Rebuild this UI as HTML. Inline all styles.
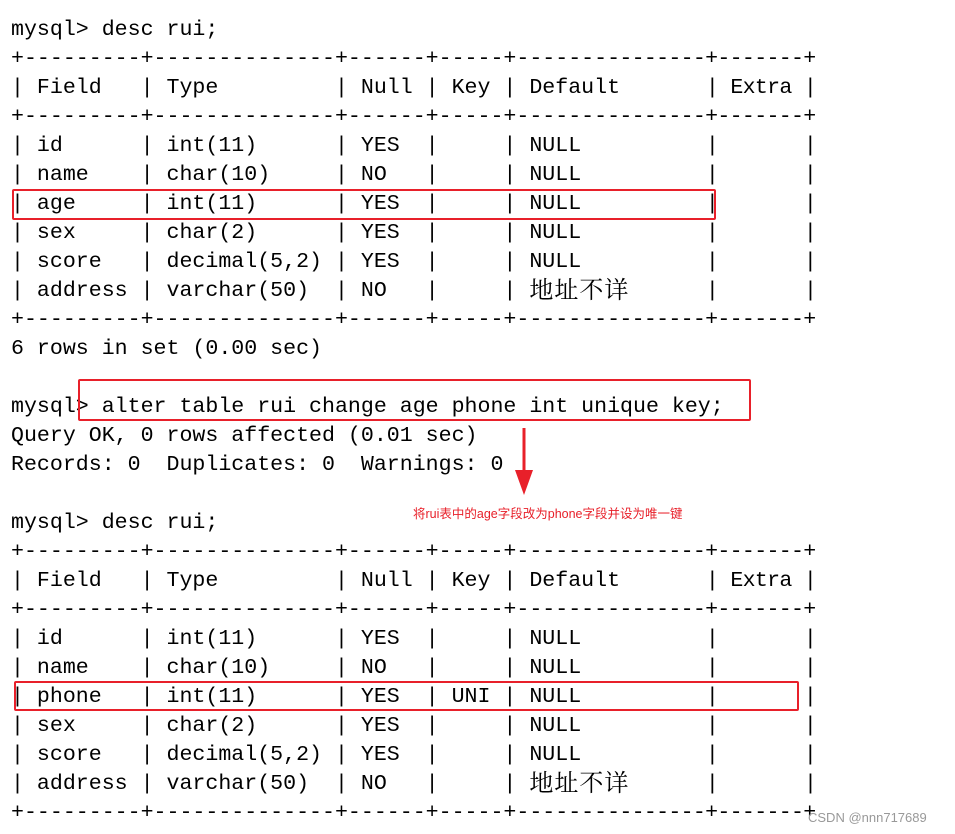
<!DOCTYPE html>
<html><head><meta charset="utf-8"><style>
body{margin:0;width:955px;height:834px;background:#fff;position:relative;overflow:hidden}
.l{position:absolute;left:11px;height:29px;line-height:29px;font-family:"Liberation Mono",monospace;font-size:21.6px;white-space:pre;color:#000}
.t{letter-spacing:-0.7px}
.cj{display:inline-block;width:103px;height:29px;line-height:29px;vertical-align:top;font-family:"Liberation Serif","Noto Serif CJK SC",serif;font-size:24px;letter-spacing:1px}
.box{position:absolute;border:2px solid #e8202a;border-radius:2px}
</style></head><body>
<div class="l" style="top:16px">mysql&gt; desc rui;</div>
<div class="l" style="top:45px">+---------+--------------+------+-----+-------<span class="t">--------+-------+</span></div>
<div class="l" style="top:74px">| Field   | Type         | Null | Key | Default<span class="t">       | Extra |</span></div>
<div class="l" style="top:103px">+---------+--------------+------+-----+-------<span class="t">--------+-------+</span></div>
<div class="l" style="top:132px">| id      | int(11)      | YES  |     | NULL   <span class="t">       |       |</span></div>
<div class="l" style="top:161px">| name    | char(10)     | NO   |     | NULL   <span class="t">       |       |</span></div>
<div class="l" style="top:190px">| age     | int(11)      | YES  |     | NULL   <span class="t">       |       |</span></div>
<div class="l" style="top:219px">| sex     | char(2)      | YES  |     | NULL   <span class="t">       |       |</span></div>
<div class="l" style="top:248px">| score   | decimal(5,2) | YES  |     | NULL   <span class="t">       |       |</span></div>
<div class="l" style="top:277px">| address | varchar(50)  | NO   |     | <span class="cj">地址不详</span><span class="t">      |       |</span></div>
<div class="l" style="top:306px">+---------+--------------+------+-----+-------<span class="t">--------+-------+</span></div>
<div class="l" style="top:335px">6 rows in set (0.00 sec)</div>
<div class="l" style="top:393px">mysql&gt; alter table rui change age phone int unique key;</div>
<div class="l" style="top:422px">Query OK, 0 rows affected (0.01 sec)</div>
<div class="l" style="top:451px">Records: 0  Duplicates: 0  Warnings: 0</div>
<div class="l" style="top:509px">mysql&gt; desc rui;</div>
<div class="l" style="top:538px">+---------+--------------+------+-----+-------<span class="t">--------+-------+</span></div>
<div class="l" style="top:567px">| Field   | Type         | Null | Key | Default<span class="t">       | Extra |</span></div>
<div class="l" style="top:596px">+---------+--------------+------+-----+-------<span class="t">--------+-------+</span></div>
<div class="l" style="top:625px">| id      | int(11)      | YES  |     | NULL   <span class="t">       |       |</span></div>
<div class="l" style="top:654px">| name    | char(10)     | NO   |     | NULL   <span class="t">       |       |</span></div>
<div class="l" style="top:683px">| phone   | int(11)      | YES  | UNI | NULL   <span class="t">       |       |</span></div>
<div class="l" style="top:712px">| sex     | char(2)      | YES  |     | NULL   <span class="t">       |       |</span></div>
<div class="l" style="top:741px">| score   | decimal(5,2) | YES  |     | NULL   <span class="t">       |       |</span></div>
<div class="l" style="top:770px">| address | varchar(50)  | NO   |     | <span class="cj">地址不详</span><span class="t">      |       |</span></div>
<div class="l" style="top:799px">+---------+--------------+------+-----+-------<span class="t">--------+-------+</span></div>
<div class="box" style="left:12px;top:189px;width:700px;height:27px"></div>
<div class="box" style="left:78px;top:379px;width:669px;height:38px"></div>
<div class="box" style="left:14px;top:681px;width:781px;height:26px"></div>
<svg style="position:absolute;left:510px;top:428px" width="30" height="70"><line x1="14" y1="0" x2="14" y2="45" stroke="#e8202a" stroke-width="3"/><polygon points="5,42 23,42 14,67" fill="#e8202a"/></svg>
<div style="position:absolute;left:413px;top:503px;font-family:'Liberation Sans','Noto Sans CJK SC',sans-serif;font-size:12.5px;color:#e8202a;white-space:nowrap">将rui表中的age字段改为phone字段并设为唯一键</div>
<div style="position:absolute;left:808px;top:810px;font-family:'Liberation Sans','Noto Sans CJK SC',sans-serif;font-size:13px;color:#999;white-space:nowrap">CSDN @nnn717689</div>
</body></html>
